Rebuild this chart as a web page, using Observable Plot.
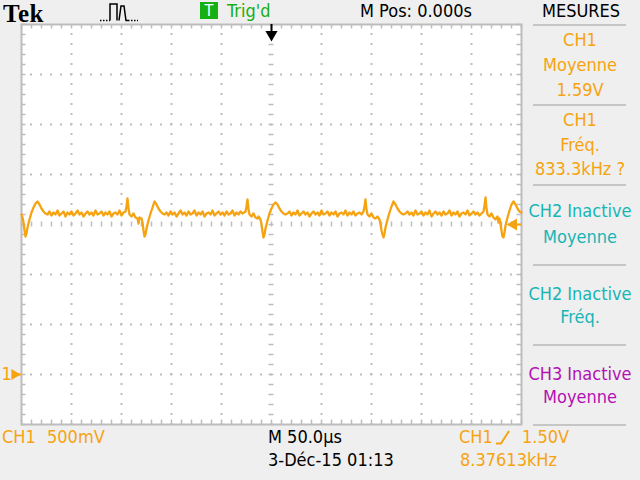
<!DOCTYPE html>
<html><head><meta charset="utf-8">
<script src="https://cdn.jsdelivr.net/npm/d3@7"></script>
<script src="https://cdn.jsdelivr.net/npm/@observablehq/plot@0.6"></script>
<style>
html,body{margin:0;padding:0;background:#efefef;}
#scope{position:relative;width:640px;height:480px;overflow:hidden;background:#efefef;font-family:"DejaVu Sans Condensed","DejaVu Sans",sans-serif;font-stretch:condensed;font-size:18px;}
#chart{position:absolute;left:0;top:0;}
.lbl{position:absolute;line-height:18px;white-space:nowrap;}
.sep{position:absolute;left:533px;width:93px;height:2px;background:#c6c6c6;}
</style></head><body><div id="scope"><div id="chart"></div></div>
<script>
// ---- CH1 trace samples: [time µs (0 = trigger), voltage V] ----
const ch1Samples = [
 [-250,1.60],[-249,1.57],[-248,1.52],[-247,1.44],[-246,1.38],[-245,1.41],[-244,1.47],[-242,1.55],[-240,1.62],[-238,1.67],[-236,1.71],[-234,1.73],[-232,1.70],[-230,1.66],[-228,1.63],[-226,1.61],
 [-224,1.60],[-222,1.63],[-220,1.59],[-218,1.62],[-216,1.60],[-214,1.64],[-212,1.59],[-210,1.61],[-208,1.63],[-206,1.58],
 [-204,1.62],[-202,1.60],[-200,1.63],[-198,1.59],[-196,1.61],[-194,1.64],[-192,1.60],[-190,1.62],[-188,1.58],[-186,1.61],
 [-184,1.63],[-182,1.60],[-180,1.62],[-178,1.59],[-176,1.64],[-174,1.60],[-172,1.61],[-170,1.63],[-168,1.59],[-166,1.62],
 [-164,1.60],[-162,1.63],[-160,1.58],[-158,1.61],[-156,1.62],[-154,1.60],[-152,1.64],[-150,1.59],[-148,1.62],
 [-146,1.63],[-145,1.68],[-144,1.76],[-143,1.66],[-142,1.60],[-140,1.58],[-138,1.61],[-136,1.57],[-134,1.56],[-133,1.51],[-132,1.57],[-130,1.56],[-129,1.52],[-128,1.44],[-127,1.38],[-126,1.40],[-125,1.46],[-123,1.54],[-121,1.61],[-119,1.67],[-117,1.73],[-115,1.70],[-113,1.66],[-111,1.63],[-109,1.61],[-107,1.60],
 [-105,1.62],[-103,1.59],[-101,1.63],[-99,1.60],[-97,1.62],[-95,1.58],[-93,1.61],[-91,1.64],[-89,1.60],[-87,1.62],
 [-85,1.59],[-83,1.63],[-81,1.60],[-79,1.61],[-77,1.64],[-75,1.59],[-73,1.62],[-71,1.60],[-69,1.63],[-67,1.58],
 [-65,1.61],[-63,1.62],[-61,1.60],[-59,1.64],[-57,1.59],[-55,1.61],[-53,1.63],[-51,1.60],[-49,1.62],[-47,1.59],
 [-45,1.63],[-43,1.60],[-41,1.61],[-39,1.64],[-37,1.59],[-35,1.62],[-33,1.60],[-31,1.63],[-29,1.61],
 [-26,1.63],[-25,1.68],[-24,1.75],[-23,1.65],[-22,1.60],[-20,1.58],[-18,1.61],[-16,1.57],[-14,1.56],[-13,1.58],[-11,1.55],[-10,1.50],[-9,1.43],[-8,1.37],[-7,1.40],[-6,1.46],[-4,1.54],[-2,1.61],[0,1.66],[2,1.70],[4,1.72],[6,1.70],[8,1.66],[10,1.63],[12,1.61],[14,1.60],
 [16,1.61],[18,1.63],[20,1.59],[22,1.62],[24,1.60],[26,1.64],[28,1.59],[30,1.61],[32,1.63],[34,1.60],
 [36,1.62],[38,1.58],[40,1.61],[42,1.63],[44,1.60],[46,1.62],[48,1.59],[50,1.64],[52,1.60],[54,1.61],
 [56,1.63],[58,1.59],[60,1.62],[62,1.60],[64,1.63],[66,1.58],[68,1.61],[70,1.62],[72,1.60],[74,1.64],
 [76,1.59],[78,1.62],[80,1.60],[82,1.63],[84,1.59],[86,1.61],[88,1.62],[90,1.60],
 [92,1.63],[93,1.68],[94,1.75],[95,1.65],[96,1.60],[98,1.58],[100,1.61],[102,1.57],[104,1.56],[106,1.58],[108,1.55],[109,1.50],[110,1.44],[111,1.40],[112,1.37],[113,1.41],[114,1.47],[116,1.55],[118,1.62],[120,1.68],[122,1.73],[124,1.70],[126,1.66],[128,1.63],[130,1.61],[132,1.60],
 [134,1.61],[136,1.63],[138,1.60],[140,1.62],[142,1.59],[144,1.64],[146,1.60],[148,1.61],[150,1.63],[152,1.59],
 [154,1.62],[156,1.60],[158,1.64],[160,1.58],[162,1.61],[164,1.63],[166,1.60],[168,1.62],[170,1.59],[172,1.63],
 [174,1.60],[176,1.61],[178,1.64],[180,1.59],[182,1.62],[184,1.60],[186,1.63],[188,1.58],[190,1.61],[192,1.62],
 [194,1.60],[196,1.64],[198,1.59],[200,1.61],[202,1.63],[204,1.60],[206,1.62],[208,1.59],[210,1.61],
 [212,1.63],[213,1.69],[214,1.77],[215,1.66],[216,1.60],[218,1.58],[220,1.61],[222,1.57],[224,1.55],[226,1.58],[227,1.52],[228,1.56],[229,1.50],[230,1.44],[231,1.38],[232,1.37],[233,1.42],[234,1.49],[236,1.57],[238,1.64],[240,1.70],[242,1.73],[244,1.70],[246,1.66],[248,1.63],[250,1.62]
];

// ---- scope settings ----
const timeRangeUs = [-250, 250];      // 10 div x 50 µs, M Pos 0.000 s
const voltRange = [-0.5, 3.5];        // 8 div x 500 mV, CH1 ground 1 div above bottom
const triggerTimeUs = 0;
const triggerLevelV = 1.50;
const ch1GroundV = 0;

// ---- texts ----
const headerTexts = ["Tek", "Trig'd", "M Pos: 0.000s", "MESURES"];
const measureBlocks = [
  {lines: ["CH1", "Moyenne", "1.59V"], color: "orange"},
  {lines: ["CH1", "Fréq.", "833.3kHz ?"], color: "orange"},
  {lines: ["CH2 Inactive", "Moyenne"], color: "cyan"},
  {lines: ["CH2 Inactive", "Fréq."], color: "cyan"},
  {lines: ["CH3 Inactive", "Moyenne"], color: "magenta"}
];
const footerTexts = ["CH1", "500mV", "M 50.0µs", "3-Déc-15 01:13", "CH1", "1.50V", "8.37613kHz"];

const COL = {orange: "#f6a312", cyan: "#17b5b5", magenta: "#b40fb4", green: "#14b014", grid: "#bdbdbd"};

const trace = ch1Samples.map(([t, v]) => ({t, v}));
const minorX = d3.range(timeRangeUs[0], timeRangeUs[1] + 1, 10);
const majorX = d3.range(timeRangeUs[0] + 50, timeRangeUs[1], 50).filter(d => d !== 0);
const minorY = d3.range(0, 41).map(i => +(voltRange[0] + i * 0.1).toFixed(2));
const centerV = (voltRange[0] + voltRange[1]) / 2;
const majorY = d3.range(1, 8).map(i => voltRange[0] + i * 0.5).filter(d => d !== centerV);
const g = {stroke: COL.grid, strokeWidth: 1.5};

const plot = Plot.plot({
  width: 640, height: 480,
  marginLeft: 21, marginRight: 119, marginTop: 24, marginBottom: 56,
  x: {domain: timeRangeUs, axis: null},
  y: {domain: voltRange, axis: null},
  style: {background: "transparent", overflow: "visible", fontFamily: "DejaVu Sans Condensed, DejaVu Sans, sans-serif"},
  marks: [
    Plot.frame({fill: "white", stroke: null}),
    Plot.ruleX(majorX, {stroke: COL.grid, strokeWidth: 2, strokeDasharray: "2,8", strokeDashoffset: 1}),
    Plot.ruleY(majorY, {stroke: COL.grid, strokeWidth: 2, strokeDasharray: "2,8", strokeDashoffset: 1}),
    Plot.ruleX(minorX, {x: d => d, y1: centerV - 0.025, y2: centerV + 0.025, ...g}),
    Plot.ruleY(minorY, {y: d => d, x1: -2.5, x2: 2.5, ...g}),
    Plot.ruleX(minorX, {x: d => d, y1: voltRange[1], y2: voltRange[1] - 0.045, ...g}),
    Plot.ruleX(minorX, {x: d => d, y1: voltRange[0], y2: voltRange[0] + 0.045, ...g}),
    Plot.ruleY(minorY, {y: d => d, x1: timeRangeUs[0], x2: timeRangeUs[0] + 4.5, ...g}),
    Plot.ruleY(minorY, {y: d => d, x1: timeRangeUs[1], x2: timeRangeUs[1] - 4.5, ...g}),
    Plot.frame({stroke: COL.grid, strokeWidth: 2}),
    Plot.line(trace, {x: "t", y: "v", stroke: COL.orange, strokeWidth: 2.3}),
    // trigger position marker (top)
    Plot.ruleX([triggerTimeUs], {x: d => d, y1: voltRange[1], y2: voltRange[1] - 0.07, stroke: "black", strokeWidth: 2}),
    Plot.dot([triggerTimeUs], {x: d => d, y: voltRange[1], dy: 10, symbol: "triangle", r: 4.5, rotate: 180, fill: "black", stroke: null}),
    // trigger level marker (right)
    Plot.ruleY([triggerLevelV], {y: d => d, x1: timeRangeUs[1] - 6, x2: timeRangeUs[1], stroke: COL.orange, strokeWidth: 2}),
    Plot.dot([triggerLevelV], {x: timeRangeUs[1], dx: -8, y: d => d, symbol: "triangle", r: 4.5, rotate: -90, fill: COL.orange, stroke: null}),
    // CH1 ground marker (left)
    Plot.text([ch1GroundV], {x: timeRangeUs[0], y: d => d, text: () => "1", dx: -20, textAnchor: "start", fill: COL.orange, fontSize: 18}),
    Plot.dot([ch1GroundV], {x: timeRangeUs[0], dx: -7, y: d => d, symbol: "triangle", r: 4, rotate: 90, fill: COL.orange, stroke: null}),
    Plot.ruleY([ch1GroundV], {y: d => d, x1: timeRangeUs[0] - 5, x2: timeRangeUs[0], stroke: COL.orange, strokeWidth: 2})
  ]
});
document.getElementById("chart").appendChild(plot);

// ---- HTML overlay texts ----
const scope = document.getElementById("scope");
function label(text, x, capTop, color, opts = {}) {
  const d = document.createElement("div");
  d.className = "lbl";
  d.textContent = text;
  d.style.left = x + "px";
  d.style.top = (capTop - 2) + "px";
  d.style.color = color;
  if (opts.width) { d.style.width = opts.width + "px"; d.style.textAlign = "center"; }
  if (opts.style) Object.assign(d.style, opts.style);
  scope.appendChild(d);
  return d;
}
function sep(y) {
  const d = document.createElement("div");
  d.className = "sep"; d.style.top = (y - 1) + "px";
  scope.appendChild(d);
}
// header
label(headerTexts[0], 3, 2, "black", {style: {top: "0px", fontFamily: "'Liberation Serif', serif", fontWeight: "bold", fontSize: "25px", lineHeight: "normal", fontStretch: "normal", letterSpacing: "0.5px"}});
const icon = document.createElement("div");
icon.style.cssText = "position:absolute;left:98px;top:0px;width:42px;height:24px;";
icon.innerHTML = '<svg width="42" height="24"><path d="M2,20.5H12 M30,20.5H40" stroke="black" stroke-width="1.5" stroke-dasharray="1.5,1.5" fill="none"/><path d="M12,20.5 V4 H19 V20.5 M21,20.5 L23,6 H26 L28,20.5 H30" stroke="black" stroke-width="1.5" fill="none"/></svg>';
scope.appendChild(icon);
label("T", 200, 4, "white", {style: {width: "18px", height: "17px", top: "2px", lineHeight: "17px", textAlign: "center", background: COL.green, fontSize: "16px"}});
label(headerTexts[1], 227, 4, COL.green);
label(headerTexts[2], 360, 4, "black");
label(headerTexts[3], 542, 4, "black");
// measurement panel
const blockTops = [[33, 58, 83], [113, 138, 162], [204, 230], [287, 310], [367, 390]];
measureBlocks.forEach((b, i) => b.lines.forEach((s, j) => label(s, 520, blockTops[i][j], COL[b.color], {width: 120})));
[25, 105, 185, 265, 345, 425].forEach(sep);
// footer
label(footerTexts[0], 2, 430, COL.orange);
label(footerTexts[1], 47, 430, COL.orange);
label(footerTexts[2], 268, 430, "black");
label(footerTexts[3], 268, 453, "black");
label(footerTexts[4], 459, 430, COL.orange);
const slope = document.createElement("div");
slope.style.cssText = "position:absolute;left:494px;top:428px;width:20px;height:18px;";
slope.innerHTML = '<svg width="20" height="18"><path d="M2,15.5 H7 L15,3" stroke="' + COL.orange + '" stroke-width="2" fill="none"/></svg>';
scope.appendChild(slope);
label(footerTexts[5], 522, 430, COL.orange);
label(footerTexts[6], 460, 453, COL.orange);
</script></body></html>
